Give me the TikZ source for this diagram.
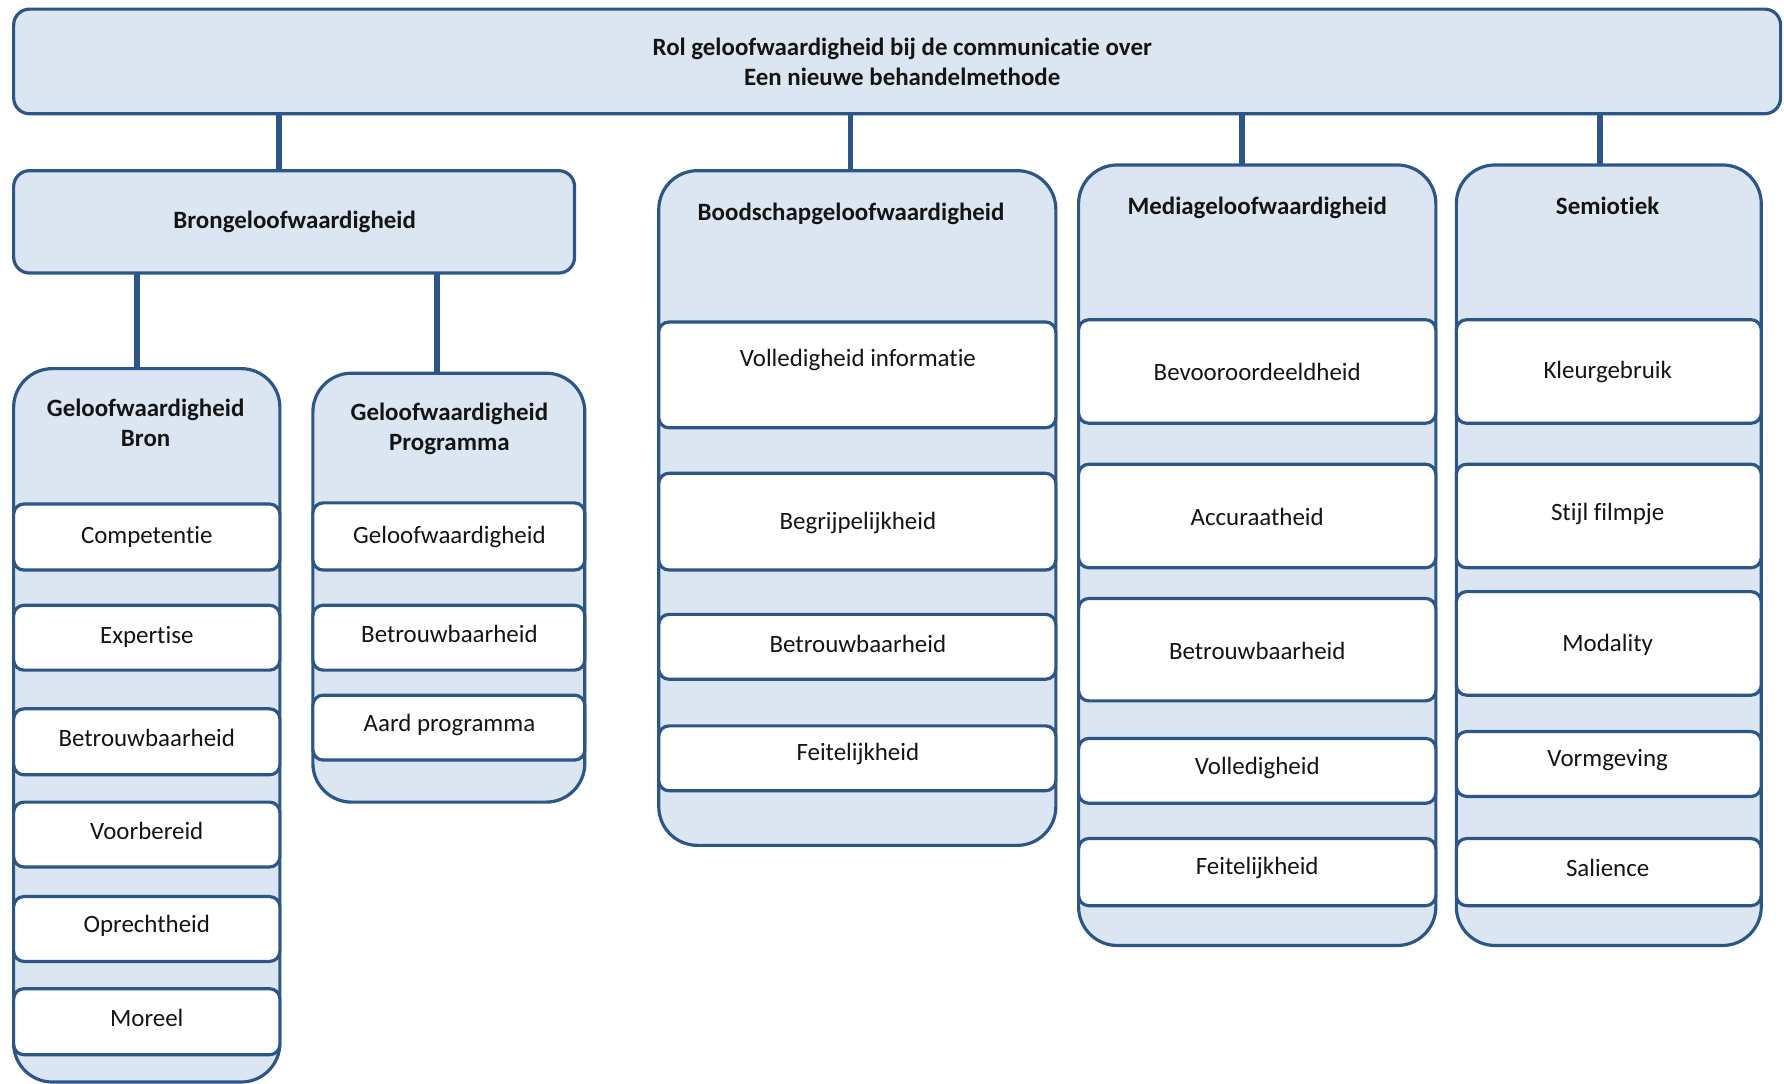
\documentclass[tikz,border=0pt]{standalone}
\usepackage{fontspec}
\setmainfont{Carlito}[Ligatures=NoCommon]
\definecolor{bord}{HTML}{2C5687}
\definecolor{lblue}{HTML}{DCE6F2}
\definecolor{txtc}{HTML}{141414}
\newcommand\drawrect[6]{%
  \node[#2, minimum width={(#5-#3)*0.5pt}, minimum height={(#6-#4)*0.5pt}] (#1) at ({(#3+#5)/2},{(#4+#6)/2}) {};}
\tikzset{
  base/.style={draw=bord, line width=1.4pt, inner sep=0pt, outer sep=0pt},
  hdr/.style={base, fill=lblue, rounded corners=7pt},
  col/.style={base, fill=lblue, rounded corners=17pt},
  item/.style={base, fill=white, rounded corners=4.5pt},
  lab/.style={font=\fontsize{10.95}{13.2}\selectfont, text=txtc, inner sep=0pt, align=center},
  blab/.style={lab, font=\bfseries\fontsize{10.95}{13.2}\selectfont},
  conn/.style={draw=bord, line width=2.6pt},
}
\begin{document}
\begin{tikzpicture}[x=0.5pt,y=-0.5pt]
\useasboundingbox (0,0) rectangle (1568,952);
% header boxes
\drawrect{top}{hdr}{12}{8}{1565}{100}
\drawrect{bron}{hdr}{12}{150}{505}{240}
% columns
\drawrect{cbron}{col}{12}{324}{246}{951}
\drawrect{cprog}{col}{275}{328}{514}{705}
\drawrect{cbood}{col}{579}{150}{928}{743}
\drawrect{cmedia}{col}{948}{145}{1262}{831}
\drawrect{csemi}{col}{1280}{145}{1548}{831}
% items Bron
\drawrect{b1}{item}{12}{443}{246}{501}
\drawrect{b2}{item}{12}{532}{246}{589}
\drawrect{b3}{item}{12}{623}{246}{681}
\drawrect{b4}{item}{12}{705}{246}{762}
\drawrect{b5}{item}{12}{788}{246}{845}
\drawrect{b6}{item}{12}{869}{246}{927}
% items Programma
\drawrect{p1}{item}{275}{442}{514}{501}
\drawrect{p2}{item}{275}{532}{514}{589}
\drawrect{p3}{item}{275}{611}{514}{668}
% items Boodschap
\drawrect{o1}{item}{579}{283}{928}{376}
\drawrect{o2}{item}{579}{416}{928}{501}
\drawrect{o3}{item}{579}{540}{928}{597}
\drawrect{o4}{item}{579}{638}{928}{695}
% items Media
\drawrect{m1}{item}{948}{281}{1262}{372}
\drawrect{m2}{item}{948}{408}{1262}{499}
\drawrect{m3}{item}{948}{526}{1262}{616}
\drawrect{m4}{item}{948}{649}{1262}{706}
\drawrect{m5}{item}{948}{737}{1262}{796}
% items Semiotiek
\drawrect{s1}{item}{1280}{281}{1548}{372}
\drawrect{s2}{item}{1280}{408}{1548}{499}
\drawrect{s3}{item}{1280}{520}{1548}{611}
\drawrect{s4}{item}{1280}{643}{1548}{700}
\drawrect{s5}{item}{1280}{737}{1548}{796}
% connectors
\draw[conn] ([xshift=-6.75pt]bron.north) -- ([xshift=-6.75pt]bron.north |- top.south);
\draw[conn] ([xshift=-3pt]cbood.north) -- ([xshift=-3pt]cbood.north |- top.south);
\draw[conn] ([xshift=-6.5pt]cmedia.north) -- ([xshift=-6.5pt]cmedia.north |- top.south);
\draw[conn] ([xshift=-4pt]csemi.north) -- ([xshift=-4pt]csemi.north |- top.south);
\draw[conn] ([xshift=-4.25pt]cbron.north) -- ([xshift=-4.25pt]cbron.north |- bron.south);
\draw[conn] ([xshift=-5.25pt]cprog.north) -- ([xshift=-5.25pt]cprog.north |- bron.south);
% texts
\node[blab] (ttop) at (793,54) {Rol geloofwaardigheid bij de communicatie over\\Een nieuwe behandelmethode};
\node[blab] (tbron) at (259,195) {Brongeloofwaardigheid};
\node[blab] (tcbron) at (128,371.5) {Geloofwaardigheid\\Bron};
\node[blab] (tcprog) at (395,377) {Geloofwaardigheid\\Programma};
\node[blab] (tcbood) at (748,188) {Boodschapgeloofwaardigheid};
\node[blab] (tcmedia) at (1105,183) {Mediageloofwaardigheid};
\node[blab] (tcsemi) at (1413,181) {Semiotiek};
\node[lab] (tb1) at (129,472) {Competentie};
\node[lab] (tb2) at (129,560) {Expertise};
\node[lab] (tb3) at (129,649) {Betrouwbaarheid};
\node[lab] (tb4) at (129,730) {Voorbereid};
\node[lab] (tb5) at (129,814) {Oprechtheid};
\node[lab] (tb6) at (129,895) {Moreel};
\node[lab] (tp1) at (395,472) {Geloofwaardigheid};
\node[lab] (tp2) at (395,557) {Betrouwbaarheid};
\node[lab] (tp3) at (395,637) {Aard programma};
\node[lab] (to1) at (754,316) {Volledigheid informatie};
\node[lab] (to2) at (754,460) {Begrijpelijkheid};
\node[lab] (to3) at (754,566) {Betrouwbaarheid};
\node[lab] (to4) at (754,663) {Feitelijkheid};
\node[lab] (tm1) at (1105,327) {Bevooroordeeldheid};
\node[lab] (tm2) at (1105,454) {Accuraatheid};
\node[lab] (tm3) at (1105,572) {Betrouwbaarheid};
\node[lab] (tm4) at (1105,675) {Volledigheid};
\node[lab] (tm5) at (1105,763) {Feitelijkheid};
\node[lab] (ts1) at (1413,327) {Kleurgebruik};
\node[lab] (ts2) at (1413,452) {Stijl filmpje};
\node[lab] (ts3) at (1413,567) {Modality};
\node[lab] (ts4) at (1413,668) {Vormgeving};
\node[lab] (ts5) at (1413,763) {Salience};
\end{tikzpicture}
\end{document}
